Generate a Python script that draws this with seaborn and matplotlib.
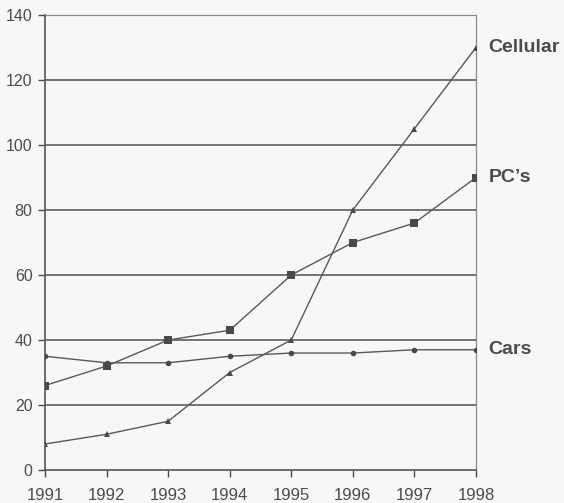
import matplotlib
matplotlib.use("Agg")
import matplotlib.pyplot as plt
import seaborn as sns
import pandas as pd

years = [1991, 1992, 1993, 1994, 1995, 1996, 1997, 1998]
cellular = [8, 11, 15, 30, 40, 80, 105, 130]
pcs = [26, 32, 40, 43, 60, 70, 76, 90]
cars = [35, 33, 33, 35, 36, 36, 37, 37]
series_names = ["Cellular", "PC\u2019s", "Cars"]
y_ticks = [0, 20, 40, 60, 80, 100, 120, 140]

sns.set_theme(style="white")
plt.rcParams["font.family"] = ["Liberation Sans", "DejaVu Sans"]

ink = "#4d4b4b"
paper = "#f8f7f5"

df = pd.DataFrame({
    "year": years * 3,
    "value": cellular + pcs + cars,
    "series": [series_names[0]] * len(years) + [series_names[1]] * len(years)
              + [series_names[2]] * len(years),
})

fig = plt.figure(figsize=(5.64, 5.03), dpi=100, facecolor=paper)
ax = fig.add_axes([0.0798, 0.0656, 0.764, 0.9044])
ax.set_facecolor(paper)

# horizontal rules behind the data
for y in y_ticks[1:-1]:
    ax.axhline(y, color="#6a6868", lw=1.3, zorder=1)

markers = {series_names[0]: "^", series_names[1]: "s", series_names[2]: "o"}
sizes = {series_names[0]: 5, series_names[1]: 6, series_names[2]: 4}
for name in series_names:
    sub = df[df["series"] == name]
    sns.lineplot(data=sub, x="year", y="value", ax=ax, color="#5a5858",
                 lw=1.0, marker=markers[name], markersize=sizes[name],
                 markeredgewidth=0, markerfacecolor="#4a4848", zorder=3,
                 legend=False)

# series labels at the right end
ends = {series_names[0]: cellular[-1], series_names[1]: pcs[-1],
        series_names[2]: cars[-1]}
for name in series_names:
    ax.annotate(name, xy=(years[-1], ends[name]), xytext=(9, 0),
                textcoords="offset points", va="center", ha="left",
                fontsize=14, fontweight="bold", color=ink,
                annotation_clip=False)

ax.set_xlim(years[0], years[-1])
ax.set_ylim(0, 140)
ax.set_xticks(years)
ax.set_yticks(y_ticks)
ax.set_xlabel("")
ax.set_ylabel("")
ax.tick_params(axis="both", colors=ink, length=5, width=1.0,
               direction="out", bottom=True, left=True)
ax.tick_params(axis="x", labelsize=12, pad=8)
ax.tick_params(axis="y", labelsize=11.5, pad=4)

for side in ["left", "bottom"]:
    ax.spines[side].set_color("#555353")
    ax.spines[side].set_linewidth(1.2)
for side in ["top", "right"]:
    ax.spines[side].set_color("#8a8888")
    ax.spines[side].set_linewidth(0.9)
    ax.spines[side].set_linestyle((0, (1, 1)))

fig.savefig("out.png", dpi=100, facecolor=paper)
